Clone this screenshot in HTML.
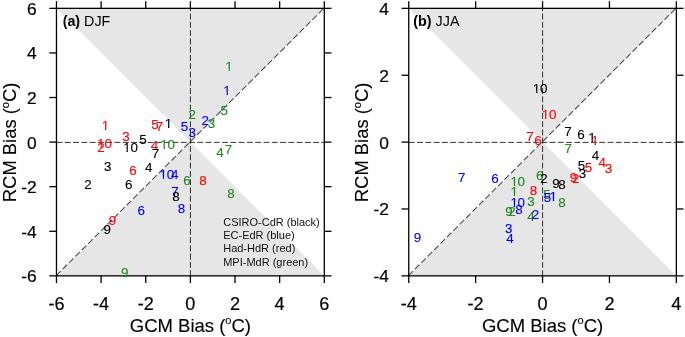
<!DOCTYPE html>
<html><head><meta charset="utf-8"><title>Bias scatter</title>
<style>
html,body{margin:0;padding:0;background:#fff;}
body{width:685px;height:337px;overflow:hidden;}
svg{display:block;will-change:transform;font-family:"Liberation Sans",sans-serif;}
</style></head><body>
<svg width="685" height="337" viewBox="0 0 685 337">
<defs><clipPath id="k1" clipPathUnits="userSpaceOnUse"><polygon points="-1.31,-10.47 8.51,-10.47 8.51,-2.16 4.66,-2.16 4.66,0.26 3.27,0.26 3.27,-2.16 -1.31,-2.16"/></clipPath></defs>
<polygon points="56.47,8.35 324.3,8.35 190.385,142.10000000000002" fill="#e6e6e6"/>
<polygon points="56.47,275.85 324.3,275.85 190.385,142.10000000000002" fill="#e6e6e6"/>
<g stroke="#111" stroke-width="0.86" stroke-dasharray="5.9 2.38" fill="none" transform="translate(0.05,0.3)">
<line x1="56.47" y1="142.10000000000002" x2="324.3" y2="142.10000000000002"/>
<line x1="190.385" y1="275.85" x2="190.385" y2="8.35"/>
<line x1="56.47" y1="275.85" x2="324.3" y2="8.35" stroke-width="1.12" stroke="#4e4e4e" stroke-dasharray="6.3 2.75" transform="translate(-0.3,-0.55)"/>
</g>
<g stroke="#000" stroke-width="1.3" fill="none">
<rect x="56.47" y="8.35" width="267.83000000000004" height="267.5"/>
<line x1="56.47" y1="275.85" x2="56.47" y2="283.05"/>
<line x1="56.47" y1="8.35" x2="56.47" y2="1.1499999999999995"/>
<line x1="56.47" y1="275.85" x2="49.269999999999996" y2="275.85"/>
<line x1="324.3" y1="275.85" x2="331.5" y2="275.85"/>
<line x1="101.11" y1="275.85" x2="101.11" y2="283.05"/>
<line x1="101.11" y1="8.35" x2="101.11" y2="1.1499999999999995"/>
<line x1="56.47" y1="231.27" x2="49.269999999999996" y2="231.27"/>
<line x1="324.3" y1="231.27" x2="331.5" y2="231.27"/>
<line x1="145.75" y1="275.85" x2="145.75" y2="283.05"/>
<line x1="145.75" y1="8.35" x2="145.75" y2="1.1499999999999995"/>
<line x1="56.47" y1="186.68" x2="49.269999999999996" y2="186.68"/>
<line x1="324.3" y1="186.68" x2="331.5" y2="186.68"/>
<line x1="190.38" y1="275.85" x2="190.38" y2="283.05"/>
<line x1="190.38" y1="8.35" x2="190.38" y2="1.1499999999999995"/>
<line x1="56.47" y1="142.10" x2="49.269999999999996" y2="142.10"/>
<line x1="324.3" y1="142.10" x2="331.5" y2="142.10"/>
<line x1="235.02" y1="275.85" x2="235.02" y2="283.05"/>
<line x1="235.02" y1="8.35" x2="235.02" y2="1.1499999999999995"/>
<line x1="56.47" y1="97.52" x2="49.269999999999996" y2="97.52"/>
<line x1="324.3" y1="97.52" x2="331.5" y2="97.52"/>
<line x1="279.66" y1="275.85" x2="279.66" y2="283.05"/>
<line x1="279.66" y1="8.35" x2="279.66" y2="1.1499999999999995"/>
<line x1="56.47" y1="52.93" x2="49.269999999999996" y2="52.93"/>
<line x1="324.3" y1="52.93" x2="331.5" y2="52.93"/>
<line x1="324.30" y1="275.85" x2="324.30" y2="283.05"/>
<line x1="324.30" y1="8.35" x2="324.30" y2="1.1499999999999995"/>
<line x1="56.47" y1="8.35" x2="49.269999999999996" y2="8.35"/>
<line x1="324.3" y1="8.35" x2="331.5" y2="8.35"/>
</g>
<g font-size="17.4px" fill="#000" stroke="#000" stroke-width="0.2">
<text x="56.47" y="309.5" text-anchor="middle" font-size="18.1px">-6</text>
<text x="36.67" y="282.25" text-anchor="end">-6</text>
<text x="101.11" y="309.5" text-anchor="middle" font-size="18.1px">-4</text>
<text x="36.67" y="237.67" text-anchor="end">-4</text>
<text x="145.75" y="309.5" text-anchor="middle" font-size="18.1px">-2</text>
<text x="36.67" y="193.08" text-anchor="end">-2</text>
<text x="190.38" y="309.5" text-anchor="middle" font-size="18.1px">0</text>
<text x="36.67" y="148.50" text-anchor="end">0</text>
<text x="235.02" y="309.5" text-anchor="middle" font-size="18.1px">2</text>
<text x="36.67" y="103.92" text-anchor="end">2</text>
<text x="279.66" y="309.5" text-anchor="middle" font-size="18.1px">4</text>
<text x="36.67" y="59.33" text-anchor="end">4</text>
<text x="324.30" y="309.5" text-anchor="middle" font-size="18.1px">6</text>
<text x="36.67" y="14.75" text-anchor="end">6</text>
</g>
<text x="190.38" y="331.8" text-anchor="middle" font-size="18.5px" stroke="#000" stroke-width="0.12">GCM Bias (<tspan font-size="11px" dy="-7.4">o</tspan><tspan dy="7.4">C)</tspan></text>
<text transform="translate(16.07,142.40) rotate(-90)" text-anchor="middle" font-size="18.4px" stroke="#000" stroke-width="0.12">RCM Bias (<tspan font-size="11px" dy="-7.4">o</tspan><tspan dy="7.4">C)</tspan></text>
<text x="62.67" y="25.6" font-size="14.3px"><tspan font-weight="bold">(a)</tspan> DJF</text>
<g font-size="13.4px" stroke-width="0.12">
<g transform="translate(101.77,130.0)" clip-path="url(#k1)"><text fill="#ff0000" stroke="#ff0000">1</text></g>
<text x="151.17" y="128.8" fill="#ff0000" stroke="#ff0000">5</text>
<text x="155.67" y="130.8" fill="#ff0000" stroke="#ff0000">7</text>
<g transform="translate(164.77,128.3)" clip-path="url(#k1)"><text fill="#000000" stroke="#000000">1</text></g>
<text x="180.87" y="131.3" fill="#0000ff" stroke="#0000ff">5</text>
<text x="188.47" y="136.8" fill="#0000ff" stroke="#0000ff">3</text>
<text x="188.47" y="119.0" fill="#228b22" stroke="#228b22">2</text>
<text x="201.57" y="125.0" fill="#0000ff" stroke="#0000ff">2</text>
<text x="207.87" y="127.5" fill="#228b22" stroke="#228b22">3</text>
<text x="220.57" y="115.4" fill="#228b22" stroke="#228b22">5</text>
<text x="122.37" y="141.4" fill="#ff0000" stroke="#ff0000">3</text>
<text x="139.27" y="143.9" fill="#000000" stroke="#000000">5</text>
<g transform="translate(97.25,147.7)" clip-path="url(#k1)"><text fill="#ff0000" stroke="#ff0000">1</text></g>
<text x="104.40" y="147.7" fill="#ff0000" stroke="#ff0000">0</text>
<text x="97.17" y="151.5" fill="#ff0000" stroke="#ff0000">2</text>
<g transform="translate(123.25,152.0)" clip-path="url(#k1)"><text fill="#000000" stroke="#000000">1</text></g>
<text x="130.40" y="152.0" fill="#000000" stroke="#000000">0</text>
<text x="150.67" y="150.2" fill="#ff0000" stroke="#ff0000">4</text>
<g transform="translate(160.35,149.4)" clip-path="url(#k1)"><text fill="#228b22" stroke="#228b22">1</text></g>
<text x="167.50" y="149.4" fill="#228b22" stroke="#228b22">0</text>
<text x="151.87" y="158.3" fill="#000000" stroke="#000000">7</text>
<text x="216.17" y="157.0" fill="#228b22" stroke="#228b22">4</text>
<text x="224.87" y="153.6" fill="#228b22" stroke="#228b22">7</text>
<text x="103.97" y="171.0" fill="#000000" stroke="#000000">3</text>
<text x="129.17" y="175.3" fill="#ff0000" stroke="#ff0000">6</text>
<text x="145.07" y="171.9" fill="#000000" stroke="#000000">4</text>
<g transform="translate(159.55,178.5)" clip-path="url(#k1)"><text fill="#0000ff" stroke="#0000ff">1</text></g>
<text x="166.70" y="178.5" fill="#0000ff" stroke="#0000ff">0</text>
<text x="171.07" y="178.5" fill="#0000ff" stroke="#0000ff">4</text>
<text x="183.37" y="184.5" fill="#228b22" stroke="#228b22">6</text>
<text x="199.37" y="185.0" fill="#ff0000" stroke="#ff0000">8</text>
<text x="84.27" y="188.8" fill="#000000" stroke="#000000">2</text>
<text x="125.07" y="188.8" fill="#000000" stroke="#000000">6</text>
<text x="171.27" y="196.3" fill="#0000ff" stroke="#0000ff">7</text>
<text x="172.27" y="201.4" fill="#000000" stroke="#000000">8</text>
<text x="177.87" y="212.8" fill="#0000ff" stroke="#0000ff">8</text>
<text x="137.47" y="215.2" fill="#0000ff" stroke="#0000ff">6</text>
<text x="108.77" y="225.3" fill="#ff0000" stroke="#ff0000">9</text>
<text x="103.47" y="233.7" fill="#000000" stroke="#000000">9</text>
<text x="121.07" y="277.0" fill="#228b22" stroke="#228b22">9</text>
<text x="227.27" y="198.3" fill="#228b22" stroke="#228b22">8</text>
<g transform="translate(225.27,70.8)" clip-path="url(#k1)"><text fill="#228b22" stroke="#228b22">1</text></g>
<g transform="translate(223.27,94.7)" clip-path="url(#k1)"><text fill="#0000ff" stroke="#0000ff">1</text></g>
</g>
<g font-size="11px" fill="#111">
<text x="223.2" y="225.6">CSIRO-CdR (black)</text>
<text x="223.2" y="238.9">EC-EdR (blue)</text>
<text x="223.2" y="252.2">Had-HdR (red)</text>
<text x="223.2" y="265.5">MPI-MdR (green)</text>
</g>
<polygon points="408.75,8.35 676.35,8.35 542.55,142.10000000000002" fill="#e6e6e6"/>
<polygon points="408.75,275.85 676.35,275.85 542.55,142.10000000000002" fill="#e6e6e6"/>
<g stroke="#111" stroke-width="0.86" stroke-dasharray="5.9 2.38" fill="none" transform="translate(0.05,0.3)">
<line x1="408.75" y1="142.10000000000002" x2="676.35" y2="142.10000000000002"/>
<line x1="542.55" y1="275.85" x2="542.55" y2="8.35"/>
<line x1="408.75" y1="275.85" x2="676.35" y2="8.35" stroke-width="1.12" stroke="#4e4e4e" stroke-dasharray="6.3 2.75" transform="translate(-0.3,-0.55)"/>
</g>
<g stroke="#000" stroke-width="1.3" fill="none">
<rect x="408.75" y="8.35" width="267.6" height="267.5"/>
<line x1="408.75" y1="275.85" x2="408.75" y2="283.05"/>
<line x1="408.75" y1="8.35" x2="408.75" y2="1.1499999999999995"/>
<line x1="408.75" y1="275.85" x2="401.55" y2="275.85"/>
<line x1="676.35" y1="275.85" x2="683.5500000000001" y2="275.85"/>
<line x1="475.65" y1="275.85" x2="475.65" y2="283.05"/>
<line x1="475.65" y1="8.35" x2="475.65" y2="1.1499999999999995"/>
<line x1="408.75" y1="208.98" x2="401.55" y2="208.98"/>
<line x1="676.35" y1="208.98" x2="683.5500000000001" y2="208.98"/>
<line x1="542.55" y1="275.85" x2="542.55" y2="283.05"/>
<line x1="542.55" y1="8.35" x2="542.55" y2="1.1499999999999995"/>
<line x1="408.75" y1="142.10" x2="401.55" y2="142.10"/>
<line x1="676.35" y1="142.10" x2="683.5500000000001" y2="142.10"/>
<line x1="609.45" y1="275.85" x2="609.45" y2="283.05"/>
<line x1="609.45" y1="8.35" x2="609.45" y2="1.1499999999999995"/>
<line x1="408.75" y1="75.23" x2="401.55" y2="75.23"/>
<line x1="676.35" y1="75.23" x2="683.5500000000001" y2="75.23"/>
<line x1="676.35" y1="275.85" x2="676.35" y2="283.05"/>
<line x1="676.35" y1="8.35" x2="676.35" y2="1.1499999999999995"/>
<line x1="408.75" y1="8.35" x2="401.55" y2="8.35"/>
<line x1="676.35" y1="8.35" x2="683.5500000000001" y2="8.35"/>
</g>
<g font-size="17.4px" fill="#000" stroke="#000" stroke-width="0.2">
<text x="408.75" y="309.5" text-anchor="middle" font-size="18.1px">-4</text>
<text x="388.95" y="282.25" text-anchor="end">-4</text>
<text x="475.65" y="309.5" text-anchor="middle" font-size="18.1px">-2</text>
<text x="388.95" y="215.38" text-anchor="end">-2</text>
<text x="542.55" y="309.5" text-anchor="middle" font-size="18.1px">0</text>
<text x="388.95" y="148.50" text-anchor="end">0</text>
<text x="609.45" y="309.5" text-anchor="middle" font-size="18.1px">2</text>
<text x="388.95" y="81.63" text-anchor="end">2</text>
<text x="676.35" y="309.5" text-anchor="middle" font-size="18.1px">4</text>
<text x="388.95" y="14.75" text-anchor="end">4</text>
</g>
<text x="542.55" y="331.8" text-anchor="middle" font-size="18.5px" stroke="#000" stroke-width="0.12">GCM Bias (<tspan font-size="11px" dy="-7.4">o</tspan><tspan dy="7.4">C)</tspan></text>
<text transform="translate(368.35,142.40) rotate(-90)" text-anchor="middle" font-size="18.4px" stroke="#000" stroke-width="0.12">RCM Bias (<tspan font-size="11px" dy="-7.4">o</tspan><tspan dy="7.4">C)</tspan></text>
<text x="413.35" y="25.6" font-size="14.3px"><tspan font-weight="bold">(b)</tspan> JJA</text>
<g font-size="13.4px" stroke-width="0.12">
<g transform="translate(532.85,93.2)" clip-path="url(#k1)"><text fill="#000000" stroke="#000000">1</text></g>
<text x="540.00" y="93.2" fill="#000000" stroke="#000000">0</text>
<g transform="translate(541.75,118.9)" clip-path="url(#k1)"><text fill="#ff0000" stroke="#ff0000">1</text></g>
<text x="548.90" y="118.9" fill="#ff0000" stroke="#ff0000">0</text>
<text x="526.17" y="140.9" fill="#ff0000" stroke="#ff0000">7</text>
<text x="534.27" y="145.4" fill="#ff0000" stroke="#ff0000">6</text>
<text x="564.27" y="135.8" fill="#000000" stroke="#000000">7</text>
<text x="577.17" y="138.6" fill="#000000" stroke="#000000">6</text>
<g transform="translate(588.27,142.4)" clip-path="url(#k1)"><text fill="#000000" stroke="#000000">1</text></g>
<g transform="translate(591.37,145.4)" clip-path="url(#k1)"><text fill="#ff0000" stroke="#ff0000">1</text></g>
<text x="564.57" y="152.5" fill="#228b22" stroke="#228b22">7</text>
<text x="591.77" y="160.4" fill="#000000" stroke="#000000">4</text>
<text x="598.57" y="167.0" fill="#ff0000" stroke="#ff0000">4</text>
<text x="604.87" y="173.0" fill="#ff0000" stroke="#ff0000">3</text>
<text x="577.67" y="169.5" fill="#000000" stroke="#000000">5</text>
<text x="584.67" y="172.0" fill="#ff0000" stroke="#ff0000">5</text>
<text x="578.87" y="178.1" fill="#000000" stroke="#000000">3</text>
<text x="569.77" y="181.8" fill="#ff0000" stroke="#ff0000">9</text>
<text x="572.07" y="182.5" fill="#ff0000" stroke="#ff0000">2</text>
<text x="536.07" y="179.5" fill="#228b22" stroke="#228b22">6</text>
<text x="540.17" y="182.8" fill="#000000" stroke="#000000">2</text>
<text x="552.27" y="187.6" fill="#000000" stroke="#000000">9</text>
<text x="558.27" y="188.9" fill="#000000" stroke="#000000">8</text>
<text x="491.27" y="183.0" fill="#0000ff" stroke="#0000ff">6</text>
<g transform="translate(510.45,185.7)" clip-path="url(#k1)"><text fill="#228b22" stroke="#228b22">1</text></g>
<text x="517.60" y="185.7" fill="#228b22" stroke="#228b22">0</text>
<g transform="translate(510.57,196.0)" clip-path="url(#k1)"><text fill="#228b22" stroke="#228b22">1</text></g>
<text x="529.87" y="194.7" fill="#ff0000" stroke="#ff0000">8</text>
<text x="543.27" y="198.6" fill="#228b22" stroke="#228b22">5</text>
<text x="543.77" y="202.2" fill="#0000ff" stroke="#0000ff">5</text>
<g transform="translate(549.57,201.4)" clip-path="url(#k1)"><text fill="#0000ff" stroke="#0000ff">1</text></g>
<text x="558.27" y="207.0" fill="#228b22" stroke="#228b22">8</text>
<g transform="translate(510.45,206.7)" clip-path="url(#k1)"><text fill="#0000ff" stroke="#0000ff">1</text></g>
<text x="517.60" y="206.7" fill="#0000ff" stroke="#0000ff">0</text>
<text x="527.27" y="206.0" fill="#228b22" stroke="#228b22">3</text>
<text x="505.27" y="215.5" fill="#228b22" stroke="#228b22">9</text>
<text x="508.27" y="215.5" fill="#228b22" stroke="#228b22">2</text>
<text x="515.27" y="213.6" fill="#0000ff" stroke="#0000ff">8</text>
<text x="527.17" y="221.0" fill="#228b22" stroke="#228b22">4</text>
<text x="531.77" y="218.5" fill="#0000ff" stroke="#0000ff">2</text>
<text x="505.07" y="233.0" fill="#0000ff" stroke="#0000ff">3</text>
<text x="506.27" y="243.1" fill="#0000ff" stroke="#0000ff">4</text>
<text x="458.07" y="182.2" fill="#0000ff" stroke="#0000ff">7</text>
<text x="413.67" y="242.3" fill="#0000ff" stroke="#0000ff">9</text>
</g>
</svg>
</body></html>
